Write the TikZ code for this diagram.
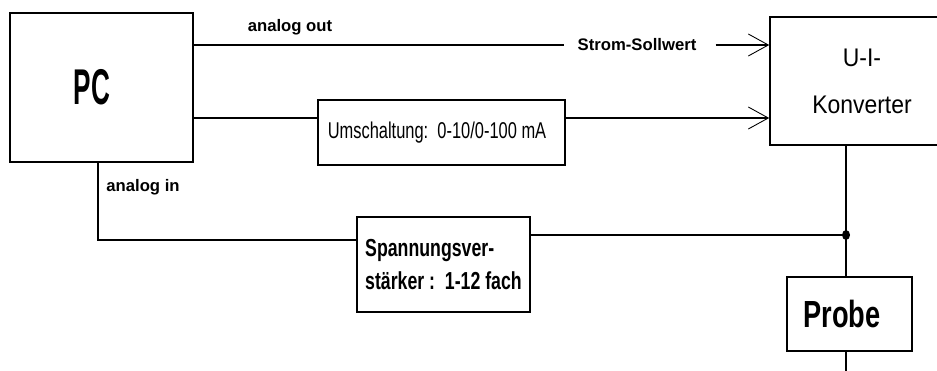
\documentclass[tikz,border=0pt]{standalone}
\usepackage{fontspec}
\setmainfont{Liberation Sans}
\newfontfamily\narrowfont[FakeStretch=0.72]{Liberation Sans}
\newfontfamily\convfont[FakeStretch=0.9]{Liberation Sans}
\newfontfamily\pcfont[FakeStretch=0.52]{Liberation Sans}
\usepackage{tikz}
\usetikzlibrary{arrows.meta}
\tikzset{>={Straight Barb[length=0.4cm,width=0.44cm,line width=0.5pt]}}
\tikzset{block/.style={draw, line width=0.9pt, inner sep=0pt},
  wire/.style={line width=0.8pt},
  sig/.style={font=\bfseries\fontsize{9.5}{11}\selectfont, inner sep=2pt}}

\begin{document}
\begin{tikzpicture}[x=0.02cm, y=-0.02cm]
\useasboundingbox (0,0) rectangle (937,371);
\node[block, minimum width=3.66cm, minimum height=2.98cm, font=\pcfont\bfseries\fontsize{28.6}{30}\selectfont] (pc) at (101.5,87.5) {PC\kern0.38cm};
\node[block, minimum width=3.68cm, minimum height=2.56cm, align=center, font=\convfont\fontsize{14.5}{26.7}\selectfont] (conv) at (862,81) {U-I-\\Konverter};
\node[block, minimum width=4.94cm, minimum height=1.3cm, font=\narrowfont\fontsize{13}{15}\selectfont] (umsch) at (441.5,132.5) {Umschaltung:\ \ 0-10/0-100 mA\kern0.18cm};
\node[block, minimum width=3.46cm, minimum height=1.9cm, align=left, font=\narrowfont\bfseries\fontsize{14}{18.8}\selectfont] (amp) at (443.5,264.5) {Spannungsver-\\st\"arker :\ \ 1-12 fach};
\node[block, minimum width=2.5cm, minimum height=1.48cm, font=\narrowfont\bfseries\fontsize{21.5}{24}\selectfont] (probe) at (849.5,314) {Probe\kern0.3cm};
\node[sig] (aout) at (290,27) {analog out};
\node[sig] (ain) at (143,187) {analog in};
\node[sig, inner xsep=0.26cm] (strom) at (637,45) {Strom-Sollwert};
\coordinate (junc) at (846,235);
\coordinate (gnd) at (846,371);

\draw[wire] (pc.east |- strom) -- (strom.west);
\draw[wire, ->, shorten <=0.12cm] (strom.east) -- (conv.west |- strom);
\draw[wire] (pc.east |- 0,118) -- (umsch.west |- 0,118);
\draw[wire, ->] (umsch.east |- 0,118) -- (conv.west |- 0,118);
\draw[wire] (pc.south -| 98,0) -- (98,240) -- (amp.west |- 0,240);
\draw[wire] (amp.east |- junc) -- (junc);
\draw[wire] (junc |- conv.south) -- (junc |- probe.north);
\draw[wire] (probe.south -| junc) -- (gnd);
\fill (junc) circle[x radius=4, y radius=5];
\end{tikzpicture}
\end{document}
